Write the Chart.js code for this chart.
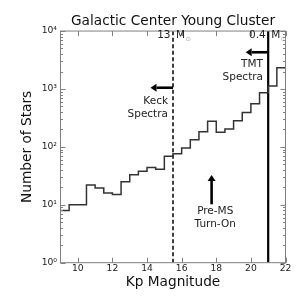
<!DOCTYPE html>
<html><head><meta charset="utf-8">
<script src="https://cdn.jsdelivr.net/npm/chart.js@4"></script>
<style>html,body{margin:0;padding:0;background:#fff}#wrap{width:300px;height:300px}</style>
</head><body><div id="wrap"><canvas id="c" width="300" height="300"></canvas></div>
<script>
// ---- data ----
const binLeftEdges = [9,9.5,10,10.5,11,11.5,12,12.5,13,13.5,14,14.5,15,15.5,16,16.5,17,17.5,18,18.5,19,19.5,20,20.5,21,21.5];
const binRightEnd = 22;
const starCounts = [8,10,10,22,19.5,16,15,25,33,38,44,41,69,76,96,133,183,276,178,204,283,393,555,857,1130,2330];
const xTickValues = [10,12,14,16,18,20,22];
const yTickValues = [1,10,100,1000,10000];
const yTickLabels = ['10\u2070','10\u00B9','10\u00B2','10\u00B3','10\u2074'];
const keckLimitMag = 15.5;   // 13 Msun
const tmtLimitMag = 21.0;    // 0.4 Msun
const keckMassLabel = '13';
const tmtMassLabel = '0.4';
const preMSTurnOnMag = 17.73;

const FONT = '"DejaVu Sans", "Bitstream Vera Sans", sans-serif';

const histPoints = binLeftEdges.map((x, i) => ({x: x, y: starCounts[i]}));
histPoints.push({x: binRightEnd, y: starCounts[starCounts.length - 1]});

const notesPlugin = {
  id: 'notes',
  afterDatasetsDraw(chart) {
    const {ctx, chartArea: a, scales: {x, y}} = chart;
    ctx.save();
    // frame
    ctx.strokeStyle = '#808080';
    ctx.lineWidth = 1;
    ctx.strokeRect(a.left, a.top, a.right - a.left, a.bottom - a.top);
    // x major ticks (inward, bottom & top)
    ctx.beginPath();
    xTickValues.forEach(v => {
      const px = Math.round(x.getPixelForValue(v)) + 0.5;
      ctx.moveTo(px, a.bottom); ctx.lineTo(px, a.bottom - 5);
      ctx.moveTo(px, a.top); ctx.lineTo(px, a.top + 5);
    });
    // y ticks (inward, left & right), major + minor
    for (let d = 0; d < yTickValues.length; d++) {
      const base = yTickValues[d];
      for (let m = 1; m <= 9; m++) {
        const v = base * m;
        if (v > 10000) break;
        const py = Math.round(y.getPixelForValue(v)) + 0.5;
        const len = m === 1 ? 5 : 2.5;
        ctx.moveTo(a.left, py); ctx.lineTo(a.left + len, py);
        ctx.moveTo(a.right, py); ctx.lineTo(a.right - len, py);
      }
    }
    ctx.stroke();

    // arrows
    function arrow(x1, y1, x2, y2) {
      const X1 = x.getPixelForValue(x1), Y1 = y.getPixelForValue(y1);
      const X2 = x.getPixelForValue(x2), Y2 = y.getPixelForValue(y2);
      const ang = Math.atan2(Y2 - Y1, X2 - X1);
      const hl = 6, hw = 4;
      const bx = X2 - hl * Math.cos(ang), by = Y2 - hl * Math.sin(ang);
      ctx.strokeStyle = '#000'; ctx.fillStyle = '#000';
      ctx.lineWidth = 2.6;
      ctx.beginPath(); ctx.moveTo(X1, Y1); ctx.lineTo(bx, by); ctx.stroke();
      ctx.beginPath();
      ctx.moveTo(X2, Y2);
      ctx.lineTo(bx + hw * Math.sin(ang), by - hw * Math.cos(ang));
      ctx.lineTo(bx - hw * Math.sin(ang), by + hw * Math.cos(ang));
      ctx.closePath(); ctx.fill();
    }
    arrow(keckLimitMag, 1050, 14.2, 1050);
    arrow(tmtLimitMag, 4300, 19.7, 4300);
    arrow(preMSTurnOnMag, 10.2, preMSTurnOnMag, 32.7);

    // texts
    ctx.fillStyle = '#222';
    ctx.font = '10.5px ' + FONT;
    ctx.textBaseline = 'middle';
    function txt(s, xv, yv, align) {
      ctx.textAlign = align;
      ctx.fillText(s, x.getPixelForValue(xv), y.getPixelForValue(yv));
    }
    txt('Keck', 15.21, 604, 'right');
    txt('Spectra', 15.21, 370, 'right');
    txt('TMT', 20.70, 2704, 'right');
    txt('Spectra', 20.70, 1567, 'right');
    txt('Pre-MS', 17.94, 7.6, 'center');
    txt('Turn-On', 17.94, 4.66, 'center');

    // mass labels around the limit lines
    function massLabel(num, mag) {
      const px = x.getPixelForValue(mag);
      const py = y.getPixelForValue(8500);
      ctx.fillStyle = '#222';
      ctx.font = '10.5px ' + FONT;
      ctx.textAlign = 'right';
      ctx.fillText(num, px - 2.5, py);
      ctx.textAlign = 'left';
      ctx.fillText('M', px + 3, py);
      const mw = ctx.measureText('M').width;
      ctx.fillStyle = '#aaa';
      ctx.font = '6.5px ' + FONT;
      ctx.fillText('\u2299', px + 3 + mw + 0.5, py + 4);
    }
    massLabel(keckMassLabel, keckLimitMag);
    massLabel(tmtMassLabel, tmtLimitMag);
    ctx.restore();
  }
};

new Chart(document.getElementById('c'), {
  type: 'line',
  data: {
    datasets: [
      {
        data: histPoints,
        stepped: true,
        borderColor: '#333',
        borderWidth: 1.5,
        pointRadius: 0,
        fill: false
      },
      {
        data: [{x: keckLimitMag, y: 1}, {x: keckLimitMag, y: 10000}],
        borderColor: '#000',
        borderWidth: 1.5,
        borderDash: [4, 2.5],
        pointRadius: 0,
        fill: false
      },
      {
        data: [{x: tmtLimitMag, y: 1}, {x: tmtLimitMag, y: 10000}],
        borderColor: '#000',
        borderWidth: 2.2,
        pointRadius: 0,
        fill: false
      }
    ]
  },
  options: {
    responsive: false,
    devicePixelRatio: 1,
    animation: false,
    layout: {padding: {left: 0, right: 14.5, top: 0, bottom: 0}},
    plugins: {
      legend: {display: false},
      tooltip: {enabled: false},
      title: {
        display: true,
        text: 'Galactic Center Young Cluster',
        fullSize: false,
        color: '#111',
        font: {family: FONT, size: 13.7, weight: 'normal'},
        padding: {top: 12.8, bottom: 1.8}
      }
    },
    scales: {
      x: {
        type: 'linear',
        min: 9, max: 22,
        afterBuildTicks: s => { s.ticks = xTickValues.map(v => ({value: v})); },
        afterFit: s => { s.height = 37.3; },
        grid: {display: false, drawTicks: false},
        border: {display: false},
        ticks: {
          color: '#222', padding: 0.5, maxRotation: 0, autoSkip: false,
          font: {family: FONT, size: 9.2}
        },
        title: {
          display: true, text: 'Kp Magnitude', color: '#111',
          font: {family: FONT, size: 13.7},
          padding: {top: 0, bottom: 9}
        }
      },
      y: {
        type: 'logarithmic',
        min: 1, max: 10000,
        afterBuildTicks: s => { s.ticks = yTickValues.map(v => ({value: v})); },
        afterFit: s => { s.width = 60.5; },
        grid: {display: false, drawTicks: false},
        border: {display: false},
        ticks: {
          color: '#222', padding: 3.5, autoSkip: false,
          font: {family: FONT, size: 9.2},
          callback: v => yTickLabels[yTickValues.indexOf(v)]
        },
        title: {
          display: true, text: 'Number of Stars', color: '#111',
          font: {family: FONT, size: 13.7},
          padding: {top: 19.3, bottom: 0}
        }
      }
    }
  },
  plugins: [notesPlugin]
});
</script>
</body></html>
